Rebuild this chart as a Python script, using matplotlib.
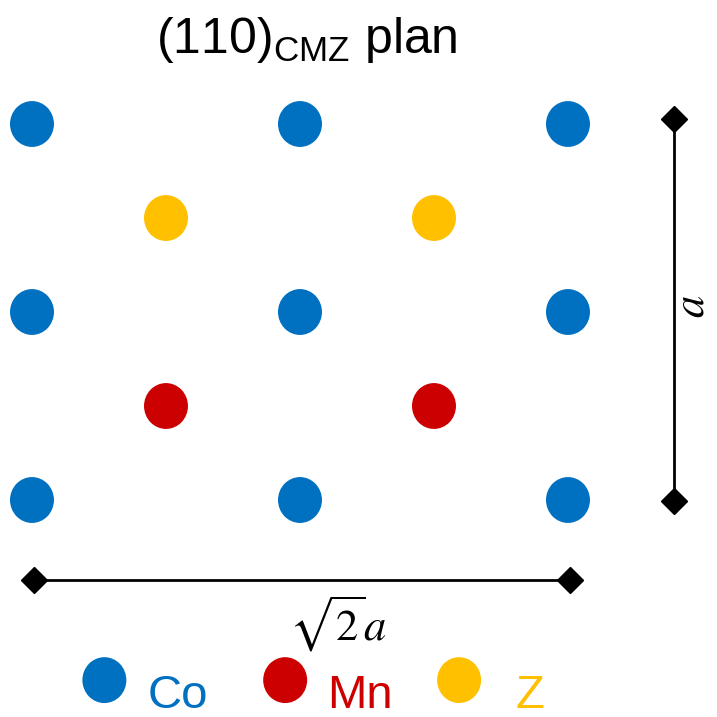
import matplotlib
matplotlib.use("Agg")
import matplotlib.pyplot as plt
from matplotlib.patches import Ellipse
import numpy as np

# lattice positions in units of the cubic parameter a
SQ2 = np.sqrt(2)
co_u = [0, SQ2 / 2, SQ2, 0, SQ2 / 2, SQ2, 0, SQ2 / 2, SQ2]
co_v = [1, 1, 1, 0.5, 0.5, 0.5, 0, 0, 0]
z_u = [SQ2 / 4, 3 * SQ2 / 4]
z_v = [0.75, 0.75]
mn_u = [SQ2 / 4, 3 * SQ2 / 4]
mn_v = [0.25, 0.25]

species = ["Co", "Mn", "Z"]
colors = {"Co": "#0070C0", "Mn": "#CC0000", "Z": "#FFC000"}

plt.rcParams["mathtext.fontset"] = "custom"
plt.rcParams["mathtext.rm"] = "Liberation Sans"
plt.rcParams["mathtext.it"] = "Liberation Sans:italic"
plt.rcParams["font.family"] = ["Liberation Sans", "DejaVu Sans"]

fig = plt.figure(figsize=(7.17, 7.17), dpi=100)
ax = fig.add_axes([0, 0, 1, 1])
ax.set_xlim(-0.0844, 1.8074)
ax.set_ylim(-0.5771, 1.3298)
ax.axis("off")

W, H = 0.116, 0.122


def atom(x, y, c):
    ax.add_patch(Ellipse((x, y), W, H, facecolor=c, edgecolor="none"))


for x, y in zip(co_u, co_v):
    atom(x, y, colors["Co"])
for x, y in zip(z_u, z_v):
    atom(x, y, colors["Z"])
for x, y in zip(mn_u, mn_v):
    atom(x, y, colors["Mn"])

# dimension bars
ax.plot([0.005, SQ2 + 0.005], [-0.213, -0.213], color="black", lw=2,
        marker="D", ms=13, markevery=[0, 1])
ax.plot([1.695, 1.695], [-0.003, 1.013], color="black", lw=2,
        marker="D", ms=13, markevery=[0, 1])

ax.text(0.807, -0.375, r"$\sqrt{2}a$", ha="center", va="baseline",
        fontsize=32, math_fontfamily="stix")
ax.text(1.742, 0.516, r"$a$", ha="center", va="center", rotation=90,
        fontsize=32, math_fontfamily="stix")

ax.text(0.726, 1.189, r"(110)$_{\mathrm{CMZ}}$ plan", ha="center",
        va="baseline", fontsize=36)

# legend
leg_u = [0.191, 0.668, 1.127]
txt_u = [0.306, 0.778, 1.277]
for name, lu, tu in zip(species, leg_u, txt_u):
    atom(lu, -0.479, colors[name])
    ax.text(tu, -0.552, name, color=colors[name], fontsize=34,
            ha="left", va="baseline")

fig.savefig("out.png", dpi=100)
